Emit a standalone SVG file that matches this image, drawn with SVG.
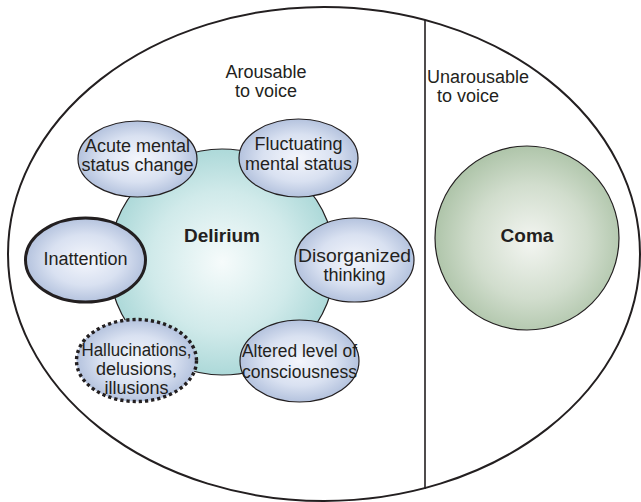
<svg xmlns="http://www.w3.org/2000/svg" width="641" height="502" viewBox="0 0 641 502">
  <defs>
    <radialGradient id="gBlue" cx="50%" cy="50%" r="55%">
      <stop offset="0" stop-color="#f4f6fc"/>
      <stop offset="0.55" stop-color="#d9e1f1"/>
      <stop offset="1" stop-color="#abbbd9"/>
    </radialGradient>
    <radialGradient id="gTeal" cx="50%" cy="50%" r="52%">
      <stop offset="0" stop-color="#f6fbfb"/>
      <stop offset="0.6" stop-color="#d0eaea"/>
      <stop offset="1" stop-color="#a9d7d7"/>
    </radialGradient>
    <radialGradient id="gGreen" cx="52%" cy="52%" r="52%">
      <stop offset="0" stop-color="#f3f5f1"/>
      <stop offset="0.6" stop-color="#d1ddcd"/>
      <stop offset="1" stop-color="#afc5aa"/>
    </radialGradient>
    <style>
      text { font-family: "Liberation Sans", Arial, sans-serif; font-size: 18px; fill: #231f20; text-anchor: middle; }
      .bold { font-weight: bold; font-size: 19px; }
      .sign { fill: url(#gBlue); stroke: #231f20; stroke-width: 1.2; }
      .sign.heavy { stroke-width: 3; }
      .sign.dotted { stroke-width: 3.4; stroke-dasharray: 3.2 3; }
      .frame { fill: none; stroke: #231f20; }
    </style>
  </defs>

  <!-- outer boundary and divider -->
  <g id="frame">
    <ellipse class="frame" cx="324" cy="254" rx="316" ry="247" stroke-width="2"/>
    <line class="frame" x1="425" y1="20" x2="425" y2="489" stroke-width="1.6"/>
  </g>

  <g id="labels">
    <text x="266" y="78">Arousable</text>
    <text x="266" y="97">to voice</text>
    <text x="427" y="83" style="text-anchor:start">Unarousable</text>
    <text x="437" y="102" style="text-anchor:start">to voice</text>
  </g>

  <g id="delirium">
    <circle cx="222" cy="262" r="113" fill="url(#gTeal)" stroke="#231f20" stroke-width="1.2"/>
    <text class="bold" x="222" y="242">Delirium</text>
  </g>

  <g id="acute">
    <ellipse class="sign" cx="137.5" cy="159" rx="59.5" ry="38"/>
    <text x="137.5" y="152">Acute mental</text>
    <text x="137.5" y="171">status change</text>
  </g>

  <g id="fluctuating">
    <ellipse class="sign" cx="298.5" cy="158" rx="59.5" ry="39"/>
    <text x="298.5" y="150">Fluctuating</text>
    <text x="298.5" y="170">mental status</text>
  </g>

  <g id="inattention">
    <ellipse class="sign heavy" cx="85.5" cy="260" rx="60" ry="42"/>
    <text x="85.5" y="265">Inattention</text>
  </g>

  <g id="disorganized">
    <ellipse class="sign" cx="354.5" cy="260" rx="59.5" ry="42"/>
    <text x="354.5" y="262" textLength="113" lengthAdjust="spacingAndGlyphs">Disorganized</text>
    <text x="354.5" y="281">thinking</text>
  </g>

  <g id="hallucinations">
    <ellipse class="sign dotted" cx="136.5" cy="360.5" rx="60" ry="41"/>
    <text x="136.5" y="356" textLength="110" lengthAdjust="spacingAndGlyphs">Hallucinations,</text>
    <text x="136.5" y="375">delusions,</text>
    <text x="136.5" y="394">illusions</text>
  </g>

  <g id="altered">
    <ellipse class="sign" cx="299.5" cy="361" rx="59.5" ry="41"/>
    <text x="299.5" y="357" textLength="115" lengthAdjust="spacingAndGlyphs">Altered level of</text>
    <text x="299.5" y="378" textLength="115" lengthAdjust="spacingAndGlyphs">consciousness</text>
  </g>

  <g id="coma">
    <circle cx="527" cy="238" r="92" fill="url(#gGreen)" stroke="#231f20" stroke-width="1.2"/>
    <text class="bold" x="527" y="242">Coma</text>
  </g>

  <g id="connectors"></g>
</svg>
